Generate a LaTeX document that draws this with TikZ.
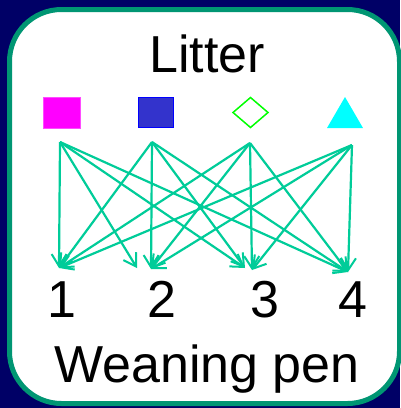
\documentclass[tikz,border=0pt]{standalone}
\usepackage{fontspec}
\setmainfont{Liberation Sans}
\usetikzlibrary{arrows.meta,shapes.geometric}
\definecolor{navybg}{RGB}{0,0,102}
\definecolor{frame}{RGB}{0,150,115}
\definecolor{link}{RGB}{0,204,153}
\definecolor{bluefill}{RGB}{51,51,204}
\definecolor{pureblue}{RGB}{0,0,255}
\definecolor{puremagenta}{RGB}{255,0,255}
\definecolor{purecyan}{RGB}{0,255,255}
\definecolor{puregreen}{RGB}{0,255,0}
\tikzset{
  big/.style={font=\fontsize{52}{60}\selectfont, inner sep=0pt, anchor=base},
  link/.style={draw=link, line width=2.2pt, -{Straight Barb[length=12pt,width=15pt,line width=2pt]}},
}
\begin{document}
\begin{tikzpicture}[x=1pt,y=-1pt]
\useasboundingbox (0,0) rectangle (400,408);
\fill[navybg] (0,0) rectangle (400,408);
\draw[frame, fill=white, line width=5pt, rounded corners=52pt] (9.5,9.5) rectangle (399.5,403.5);
% title
\node[big] (litter) at (207,72) {Litter};
% litter symbols
\node[draw=puremagenta!70!white, fill=puremagenta, line width=0.8pt, minimum width=37pt, minimum height=31pt, inner sep=0pt] (sq1) at (61.5,112.5) {};
\node[draw=pureblue, fill=bluefill, line width=1.5pt, minimum width=35pt, minimum height=30pt, inner sep=0pt] (sq2) at (156,112.5) {};
\draw[draw=puregreen, line width=1.5pt] (233,112.5) -- (250.5,97.5) -- (268,112.5) -- (250.5,127.5) -- cycle;
\fill[purecyan] (327,128) -- (345,97) -- (363,128) -- cycle;
% start points
\coordinate (s1) at (60,142);
\coordinate (s2) at (152,142);
\coordinate (s3) at (250,143);
\coordinate (s4) at (352,145);
% end points
\coordinate (t1) at (59,268);
\coordinate (t2a) at (137,268);
\coordinate (t2) at (151,269);
\coordinate (t3a) at (245,268);
\coordinate (t3) at (252,270);
\coordinate (t4) at (348,272);
% connectors
\foreach \s in {s1,s2,s3,s4} \draw[link] (\s) -- (t1);
\draw[link] (s1) -- (t2a);
\foreach \s in {s2,s3,s4} \draw[link] (\s) -- (t2);
\foreach \s in {s1,s2} \draw[link] (\s) -- (t3a);
\foreach \s in {s3,s4} \draw[link] (\s) -- (t3);
\foreach \s in {s1,s2,s3,s4} \draw[link] (\s) -- (t4);
% pen numbers
\node[big] (p1) at (62,317) {1};
\node[big] (p2) at (162,317) {2};
\node[big] (p3) at (265,317) {3};
\node[big] (p4) at (353,317) {4};
\node[big] (pen) at (207,382) {Weaning pen};
\end{tikzpicture}
\end{document}
